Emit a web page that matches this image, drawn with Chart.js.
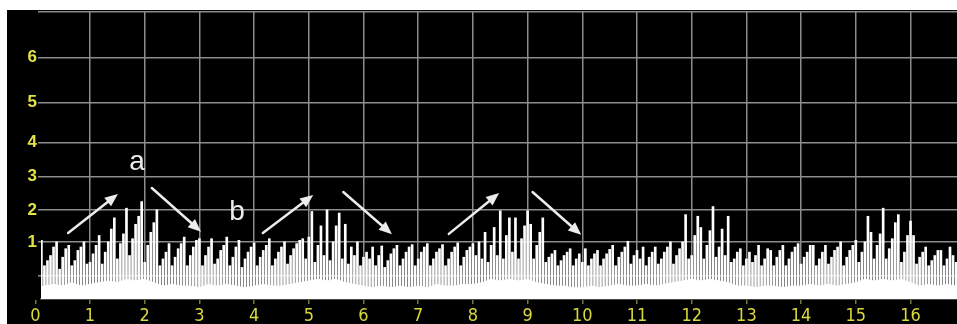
<!DOCTYPE html>
<html><head><meta charset="utf-8">
<script src="https://cdn.jsdelivr.net/npm/chart.js@4"></script>
<style>
html,body{margin:0;padding:0;background:#fff;width:957px;height:324px;overflow:hidden}
#wrap{position:absolute;left:7px;top:10px;width:950px;height:314px;background:#000}
canvas{display:block}
</style></head><body>
<div id="wrap"><canvas id="c" width="950" height="314"></canvas></div>
<script>
// ---- data ----
const xTicks = [0,1,2,3,4,5,6,7,8,9,10,11,12,13,14,15,16];
const yTickLabels = [1,2,3,4,5,6];
const binsPerUnit = 18;              // spike bins per x unit
// spike heights, one row per x unit (bin k sits at x = k/18)
const spikeHeights = [
  null,null,1.05,0.3,0.45,0.6,0.85,1.0,0.2,0.55,0.8,0.9,0.3,0.45,0.75,0.85,1.0,0.35,
  0.4,0.65,0.9,1.2,0.35,0.7,1.0,1.4,1.75,0.5,0.95,1.25,2.05,0.6,1.1,1.55,1.8,2.25,
  0.4,0.9,1.3,1.6,2.0,0.3,0.5,0.7,0.95,0.3,0.55,0.8,0.95,1.15,0.3,0.6,0.85,1.05,
  1.1,0.3,0.6,0.85,1.1,0.35,0.5,0.75,0.9,1.15,0.3,0.55,0.85,1.05,0.25,0.5,0.7,0.85,
  0.97,0.3,0.55,0.75,0.9,1.1,0.3,0.5,0.7,0.85,1.0,0.35,0.6,0.8,0.95,1.05,1.1,0.5,
  1.15,1.95,0.4,0.9,1.5,0.6,2.0,0.45,1.0,1.5,1.9,0.5,1.55,0.35,0.85,0.6,1.0,0.3,
  0.55,0.7,0.5,0.85,0.3,0.6,0.88,0.25,0.45,0.65,0.8,0.9,0.3,0.5,0.7,0.85,0.92,0.3,
  0.5,0.7,0.85,0.95,0.3,0.5,0.7,0.8,0.92,0.3,0.5,0.7,0.85,0.97,0.3,0.55,0.75,0.85,
  0.95,0.6,1.0,0.5,1.3,0.4,0.9,1.45,0.6,1.97,0.5,1.2,1.75,0.7,1.75,0.5,1.1,1.5,
  1.97,1.55,0.5,0.9,1.3,1.75,0.4,0.55,0.65,0.75,0.3,0.45,0.6,0.7,0.8,0.3,0.5,0.65,
  0.4,0.8,0.3,0.5,0.65,0.75,0.3,0.5,0.65,0.78,0.9,0.3,0.55,0.7,0.85,1.02,0.35,0.6,
  0.75,0.5,0.85,0.3,0.55,0.7,0.85,0.35,0.5,0.7,0.85,1.0,0.35,0.6,0.8,1.0,1.85,0.5,
  0.6,1.2,1.8,1.45,0.5,0.9,1.35,2.1,0.55,0.85,1.4,0.6,1.8,0.4,0.5,0.7,0.8,0.3,
  0.5,0.7,0.4,0.6,0.9,0.3,0.5,0.8,0.75,0.3,0.55,0.75,0.9,0.3,0.5,0.7,0.85,0.95,
  0.35,0.55,0.7,0.9,0.9,0.3,0.5,0.7,0.9,0.35,0.55,0.75,0.85,1.0,0.3,0.55,0.75,0.9,
  1.05,0.4,0.7,1.0,1.8,1.3,0.5,0.9,1.25,2.05,0.5,0.8,1.1,1.6,1.85,0.4,0.7,1.2,
  1.65,1.2,0.35,0.55,0.7,0.85,0.3,0.45,0.6,0.75,0.75,0.3,0.5,0.85,0.6,0.4
];
const floorPerUnit = 6;              // noise-floor samples per x unit
const floorLevels = [
  -0.35,-0.3,-0.25,-0.3,-0.2,-0.3,
  -0.25,-0.2,-0.15,-0.2,-0.1,-0.15,
  -0.1,-0.2,-0.3,-0.25,-0.3,-0.3,
  -0.35,-0.25,-0.3,-0.25,-0.3,-0.35,
  -0.3,-0.25,-0.3,-0.3,-0.25,-0.2,
  -0.15,-0.1,-0.15,-0.1,-0.2,-0.25,
  -0.3,-0.35,-0.3,-0.35,-0.3,-0.35,
  -0.3,-0.35,-0.25,-0.3,-0.3,-0.25,
  -0.25,-0.2,-0.1,-0.15,-0.1,-0.15,
  -0.1,-0.2,-0.25,-0.3,-0.3,-0.35,
  -0.35,-0.3,-0.35,-0.3,-0.25,-0.3,
  -0.3,-0.25,-0.3,-0.25,-0.2,-0.15,
  -0.1,-0.15,-0.1,-0.15,-0.2,-0.3,
  -0.3,-0.35,-0.3,-0.3,-0.35,-0.3,
  -0.3,-0.25,-0.3,-0.25,-0.3,-0.25,
  -0.2,-0.1,-0.15,-0.1,-0.15,-0.1,
  -0.2,-0.3,-0.25,-0.3,-0.25,-0.3
];
// arrows: [fromX, fromY, toX, toY] in data units
const arrows = [
  [0.60,1.28,1.51,2.48],
  [2.13,2.66,3.03,1.32],
  [4.16,1.28,5.08,2.45],
  [5.63,2.54,6.52,1.24],
  [7.56,1.25,8.48,2.51],
  [9.09,2.54,9.98,1.22]
];
const noteText = ['a','b'];
const noteX = [1.86,3.69];
const noteY = [3.2,1.69];

// ---- axis warp of the original (non-uniform) value axis ----
const yLevels = [-0.68,0,1,2,3,4,5,6,7];
const yLevelRise = [0,23,57,89,122,156,196,241,286.5];
function warp(v){
  for(let i=1;i<yLevels.length;i++){
    if(v<=yLevels[i] || i===yLevels.length-1){
      const t=(v-yLevels[i-1])/(yLevels[i]-yLevels[i-1]);
      return yLevelRise[i-1]+t*(yLevelRise[i]-yLevelRise[i-1]);
    }
  }
}

const spikeData = spikeHeights.map((v,k)=> v==null?null:{x:k/binsPerUnit, y:warp(v)}).filter(p=>p);
const floorData = floorLevels.map((v,k)=>({x:k/floorPerUnit, y:warp(v)}));

const GRID = '#8c8c8c';
const notesPlugin = {
  id:'notes',
  afterDatasetsDraw(chart){
    const {ctx, scales:{x,y}} = chart;
    ctx.save();
    ctx.strokeStyle='#ececec'; ctx.fillStyle='#ececec';
    ctx.lineWidth=2.5; ctx.lineCap='round';
    arrows.forEach(a=>{
      const x1=x.getPixelForValue(a[0]), y1=y.getPixelForValue(warp(a[1]));
      const x2=x.getPixelForValue(a[2]), y2=y.getPixelForValue(warp(a[3]));
      const ang=Math.atan2(y2-y1,x2-x1), hl=13, hw=5.5;
      const bx=x2-hl*Math.cos(ang), by=y2-hl*Math.sin(ang);
      ctx.beginPath(); ctx.moveTo(x1,y1); ctx.lineTo(bx,by); ctx.stroke();
      ctx.beginPath(); ctx.moveTo(x2,y2);
      ctx.lineTo(bx+hw*Math.sin(ang), by-hw*Math.cos(ang));
      ctx.lineTo(bx-hw*Math.sin(ang), by+hw*Math.cos(ang));
      ctx.closePath(); ctx.fill();
    });
    ctx.font='28px "Liberation Sans", Arial, sans-serif';
    ctx.textAlign='center'; ctx.textBaseline='alphabetic';
    noteText.forEach((t,i)=>ctx.fillText(t, x.getPixelForValue(noteX[i]), y.getPixelForValue(warp(noteY[i]))));
    ctx.restore();
  }
};

new Chart(document.getElementById('c'), {
  data:{
    datasets:[
      {type:'bar', data:spikeData, backgroundColor:'#ffffff', borderWidth:0, barThickness:2, order:1},
      {type:'line', data:floorData, borderColor:'#ffffff', backgroundColor:'#ffffff', borderWidth:1,
       pointRadius:0, fill:'start', tension:0, order:2}
    ]
  },
  options:{
    responsive:false, animation:false, devicePixelRatio:1,
    layout:{padding:{top:2,right:0,left:0,bottom:0}},
    plugins:{legend:{display:false}, tooltip:{enabled:false}},
    scales:{
      x:{
        type:'linear', min:0.104, max:16.85, offset:false,
        afterBuildTicks:s=>{ s.ticks = xTicks.map(v=>({value:v})); },
        afterFit:s=>{ s.height = 25; s.paddingLeft = 0; s.paddingRight = 0; },
        grid:{offset:false, color:c=> (c.tick && c.tick.value===0) ? 'rgba(0,0,0,0)' : GRID, lineWidth:1.5, tickLength:5, tickColor:'#7a7a3a'},
        border:{display:true, color:'#4a4a4a', width:2},
        ticks:{autoSkip:false, maxRotation:0, padding:2, color:'#d8d83c',
          font:{family:'"Liberation Sans Narrow","DejaVu Sans Condensed","Liberation Sans",sans-serif', size:18},
          callback:v=>String(v)}
      },
      y:{
        type:'linear', min:0, max:yLevelRise[yLevelRise.length-1],
        afterBuildTicks:s=>{ s.ticks = yLevels.slice(1).map(v=>({value:warp(v)})); },
        afterFit:s=>{ s.width = 34; s.paddingTop = 0; s.paddingBottom = 0; },
        grid:{color:GRID, lineWidth:1.5, tickLength:3},
        border:{display:false},
        ticks:{autoSkip:false, padding:1, color:'#e2e244',
          font:{family:'"Liberation Sans","DejaVu Sans",sans-serif', size:17, weight:'bold'},
          callback:(v,i)=>{ const lv=yLevels[i+1]; return yTickLabels.includes(lv)?String(lv):''; }}
      }
    }
  },
  plugins:[notesPlugin]
});
</script>
</body></html>
